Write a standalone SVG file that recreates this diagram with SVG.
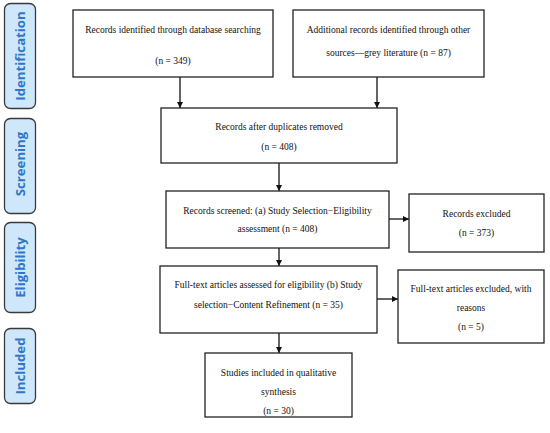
<svg xmlns="http://www.w3.org/2000/svg" width="550" height="433" viewBox="0 0 550 433">
<defs>
<style>
.box{fill:#fff;stroke:#222;stroke-width:1.3}
.t{font-family:"Liberation Serif","Times New Roman",serif;font-size:9.5px;fill:#111;text-anchor:middle}
.pill{fill:#cfe7fb;stroke:#3a3a3a;stroke-width:1.3}
.pt{font-family:"Open Sans","DejaVu Sans",sans-serif;font-weight:bold;font-size:13.2px;fill:#2f76c8;text-anchor:middle}
.c{stroke:#111;stroke-width:1.3;fill:none}
</style>
<marker id="ah" viewBox="0 0 10 10" refX="10" refY="5" markerWidth="6" markerHeight="6" markerUnits="userSpaceOnUse" orient="auto">
<path d="M0,0 L10,5 L0,10 z" fill="#111"/>
</marker>
</defs>
<rect width="550" height="433" fill="#fff"/>
<g id="stage-identification"><rect class="pill" x="4.5" y="3.5" width="31" height="105" rx="6"/><text class="pt" transform="translate(24.5,56) rotate(-90)">Identification</text></g>
<g id="stage-screening"><rect class="pill" x="4.5" y="118.5" width="31" height="95" rx="6"/><text class="pt" transform="translate(24.5,164) rotate(-90)">Screening</text></g>
<g id="stage-eligibility"><rect class="pill" x="4.5" y="222.5" width="31" height="90" rx="6"/><text class="pt" transform="translate(24.5,267.5) rotate(-90)">Eligibility</text></g>
<g id="stage-included"><rect class="pill" x="4.5" y="328.5" width="31" height="75" rx="6"/><text class="pt" transform="translate(24.5,366) rotate(-90)">Included</text></g>

<g id="connectors">
<line class="c" x1="180" y1="77" x2="180" y2="108" marker-end="url(#ah)"/>
<line class="c" x1="377" y1="77" x2="377" y2="108" marker-end="url(#ah)"/>
<line class="c" x1="279" y1="163" x2="279" y2="191" marker-end="url(#ah)"/>
<line class="c" x1="389" y1="219" x2="409" y2="219" marker-end="url(#ah)"/>
<line class="c" x1="279" y1="248" x2="279" y2="266" marker-end="url(#ah)"/>
<line class="c" x1="377" y1="299" x2="398" y2="299" marker-end="url(#ah)"/>
<line class="c" x1="279" y1="333" x2="279" y2="353" marker-end="url(#ah)"/>
</g>

<g id="n1"><rect class="box" x="73" y="10" width="200" height="67"/>
<text class="t" x="173" y="33">Records identified through database searching</text>
<text class="t" x="173" y="64">(n = 349)</text></g>

<g id="n2"><rect class="box" x="293" y="10" width="191" height="67"/>
<text class="t" x="388.5" y="33">Additional records identified through other</text>
<text class="t" x="388.5" y="56">sources—grey literature (n = 87)</text></g>

<g id="n3"><rect class="box" x="161" y="108" width="236" height="55"/>
<text class="t" x="279" y="130">Records after duplicates removed</text>
<text class="t" x="279" y="150">(n = 408)</text></g>

<g id="n4"><rect class="box" x="166" y="191" width="223" height="57"/>
<text class="t" x="277.5" y="214">Records screened: (a) Study Selection−Eligibility</text>
<text class="t" x="277.5" y="232">assessment (n = 408)</text></g>

<g id="n5"><rect class="box" x="409" y="194" width="135" height="58"/>
<text class="t" x="476.5" y="217">Records excluded</text>
<text class="t" x="476.5" y="236">(n = 373)</text></g>

<g id="n6"><rect class="box" x="160" y="266" width="217" height="67"/>
<text class="t" x="268.5" y="288">Full-text articles assessed for eligibility (b) Study</text>
<text class="t" x="268.5" y="308">selection−Content Refinement (n = 35)</text></g>

<g id="n7"><rect class="box" x="398" y="270" width="146" height="73"/>
<text class="t" x="471" y="292">Full-text articles excluded, with</text>
<text class="t" x="471" y="311">reasons</text>
<text class="t" x="471" y="330">(n = 5)</text></g>

<g id="n8"><rect class="box" x="205" y="353" width="147" height="64"/>
<text class="t" x="278.5" y="376">Studies included in qualitative</text>
<text class="t" x="278.5" y="395">synthesis</text>
<text class="t" x="278.5" y="414">(n = 30)</text></g>
</svg>
